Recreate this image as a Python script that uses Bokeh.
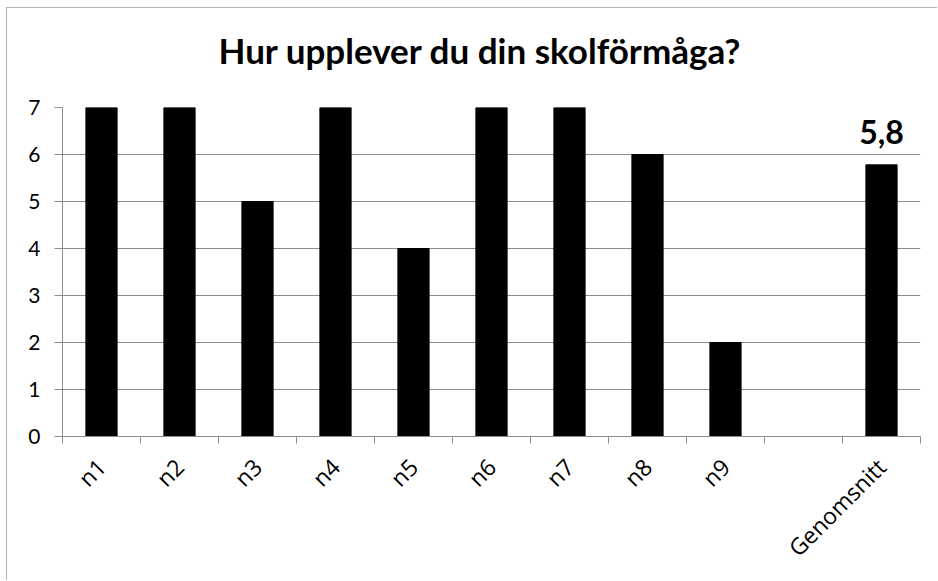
import math
from bokeh.plotting import figure
from bokeh.models import (ColumnDataSource, FactorRange, CategoricalAxis, LinearAxis,
                          FixedTicker, Range1d, Title)
from bokeh.core.properties import value
from bokeh.embed import file_html
from bokeh.resources import INLINE

title_text = "Hur upplever du din skolförmåga?"
categories = ["n1", "n2", "n3", "n4", "n5", "n6", "n7", "n8", "n9", " ", "Genomsnitt"]
scores = [7, 7, 5, 7, 4, 7, 7, 6, 2, None, 5.78]
y_ticks = [0, 1, 2, 3, 4, 5, 6, 7]
avg_label = "5,8"

GRID = "#8c8c8c"
TXT = "#000000"

p = figure(width=931, height=573, x_range=FactorRange(factors=categories),
           y_range=Range1d(0, 7), output_backend="svg", toolbar_location=None,
           x_axis_location=None, title=None,
           min_border_left=55, min_border_right=18, min_border_top=99,
           min_border_bottom=145)
p.outline_line_color = None
p.background_fill_color = "white"
p.border_fill_color = "white"
p.styles = {"border-left": "1px solid #b4b4b4", "border-top": "1px solid #b4b4b4",
            "margin-left": "6px", "margin-top": "7px"}

# spacer between title and plot area, then the title
p.add_layout(Title(text=" ", text_font_size="10px", standoff=19), "above")
p.add_layout(Title(text=title_text, align="left", offset=156, text_font="Lato",
                   text_font_style="bold", text_font_size="35px", text_color=TXT,
                   standoff=10), "above")

# bars
xs = [c for c, v in zip(categories, scores) if v is not None]
tops = [v for v in scores if v is not None]
src = ColumnDataSource(dict(x=xs, top=tops))
p.vbar(x="x", top="top", width=0.4, source=src,
       fill_color="black", line_color="black")

# average label
p.text(x=["Genomsnitt"], y=[scores[-1]], text=[avg_label],
       text_font=value("Lato"), text_font_style="bold", text_font_size="32px",
       text_align="center", text_baseline="alphabetic", y_offset=-33, text_color=TXT)

# y axis
p.yaxis.ticker = FixedTicker(ticks=y_ticks)
p.yaxis.axis_line_color = GRID
p.yaxis.major_tick_line_color = GRID
p.yaxis.major_tick_out = 8
p.yaxis.major_tick_in = 0
p.yaxis.minor_tick_line_color = None
p.yaxis.major_label_standoff = 14
p.yaxis.major_label_text_font = "Lato"
p.yaxis.major_label_text_font_size = "21px"
p.yaxis.major_label_text_color = TXT

p.ygrid.ticker = FixedTicker(ticks=y_ticks)
p.ygrid.grid_line_color = GRID
p.xgrid.grid_line_color = None

# x boundary ticks (between categories)
n_b = len(categories) + 1
bax = LinearAxis(ticker=FixedTicker(ticks=list(range(n_b))))
bax.major_label_overrides = {i: "" for i in range(n_b)}
bax.major_label_text_font_size = "1px"
bax.major_label_standoff = 0
bax.axis_line_color = GRID
bax.major_tick_line_color = GRID
bax.major_tick_out = 7
bax.major_tick_in = 0
bax.minor_tick_line_color = None
p.add_layout(bax, "below")

# category labels
cax = CategoricalAxis()
cax.axis_line_color = None
cax.major_tick_line_color = None
cax.major_label_orientation = math.pi / 4
cax.major_label_text_font = "Open Sans"
cax.major_label_text_font_size = "23px"
cax.major_label_text_color = TXT
cax.major_label_standoff = 13
p.add_layout(cax, "below")

open("out.html", "w").write(file_html(p, INLINE))
